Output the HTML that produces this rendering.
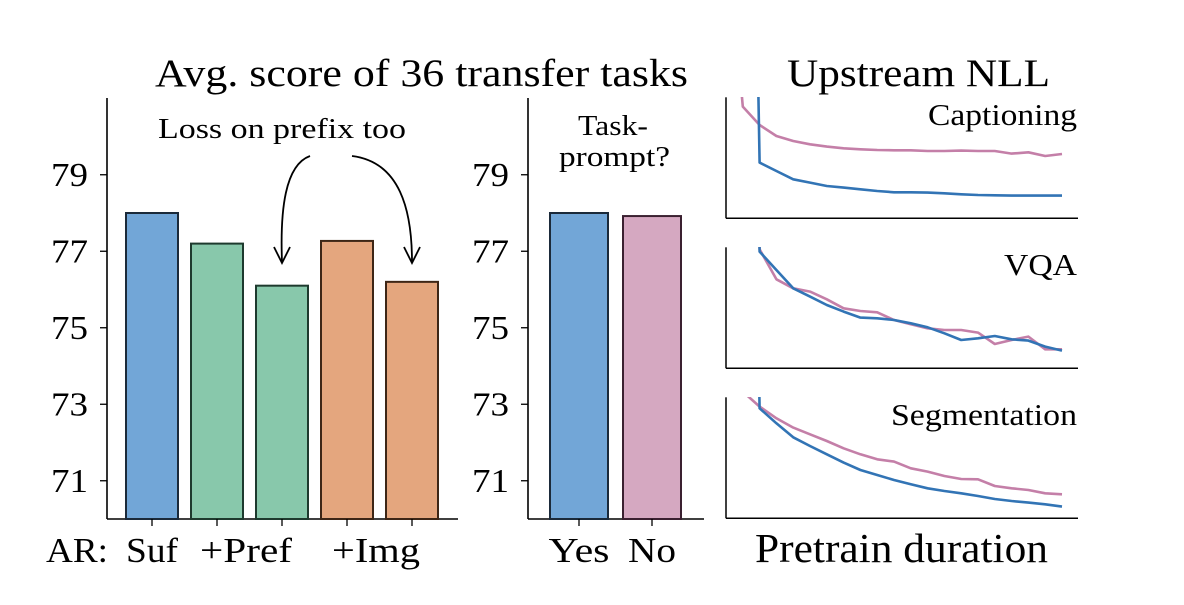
<!DOCTYPE html>
<html><head><meta charset="utf-8"><style>
html,body{margin:0;padding:0;background:#fff;}
svg{display:block;font-family:"Liberation Serif",serif;}
</style></head><body>
<svg id="fig" width="1184" height="605" viewBox="0 0 1184 605">
<defs>
<clipPath id="c0"><rect x="726" y="97" width="360" height="122"/></clipPath>
<clipPath id="c1"><rect x="726" y="247" width="360" height="122"/></clipPath>
<clipPath id="c2"><rect x="726" y="397" width="360" height="122"/></clipPath>
</defs>
<text x="155" y="86" font-size="39" textLength="533" lengthAdjust="spacingAndGlyphs">Avg. score of 36 transfer tasks</text>
<text x="787" y="86" font-size="39" textLength="263" lengthAdjust="spacingAndGlyphs">Upstream NLL</text>
<text x="158" y="138" font-size="29" textLength="248" lengthAdjust="spacingAndGlyphs">Loss on prefix too</text>
<path d="M310,156 C285,165 280,210 282,262" fill="none" stroke="#000" stroke-width="1.8"/>
<path d="M274,247 L282,263 L290,247" fill="none" stroke="#000" stroke-width="1.8"/>
<path d="M352,156 C400,162 412,210 412,262" fill="none" stroke="#000" stroke-width="1.8"/>
<path d="M404,247 L412,263 L420,247" fill="none" stroke="#000" stroke-width="1.8"/>
<text x="613" y="135" font-size="29" text-anchor="middle" textLength="70" lengthAdjust="spacingAndGlyphs">Task-</text>
<text x="559" y="166" font-size="29" textLength="111" lengthAdjust="spacingAndGlyphs">prompt?</text>
<text x="928" y="125" font-size="31" textLength="149" lengthAdjust="spacingAndGlyphs">Captioning</text>
<text x="1004" y="275" font-size="31" textLength="73" lengthAdjust="spacingAndGlyphs">VQA</text>
<text x="891" y="425" font-size="31" textLength="186" lengthAdjust="spacingAndGlyphs">Segmentation</text>
<text x="755" y="562" font-size="41" textLength="293" lengthAdjust="spacingAndGlyphs">Pretrain duration</text>
<text x="46" y="562" font-size="35" textLength="62" lengthAdjust="spacingAndGlyphs">AR:</text>
<g id="g1"></g><g id="g2"></g><g id="g3"></g>
</svg>
<script>
const ticks = [71, 73, 75, 77, 79];
const arCats = ["Suf", "+Pref", "+Pref-loss", "+Img", "+Img-loss"];
const arVals = [78.0, 77.2, 76.1, 77.27, 76.2];
const arColors = ["#72a6d7", "#88c8ab", "#88c8ab", "#e4a67e", "#e4a67e"];
const arEdges = ["#1b2a3a", "#1e3a2e", "#1e3a2e", "#3d2616", "#3d2616"];
const tpCats = ["Yes", "No"];
const tpVals = [78.0, 77.92];
const steps = [0,1,2,3,4,5,6,7,8,9,10,11,12,13,14,15,16,17,18,19,20];
const capBlue = [null, 30, 1.67, 1.42, 1.17, 1.07, 0.97, 0.92, 0.87, 0.82, 0.78, 0.78, 0.77, 0.75, 0.72, 0.70, 0.69, 0.68, 0.68, 0.68, 0.68];
const capPink = [9, 3.35, 2.80, 2.47, 2.32, 2.22, 2.15, 2.10, 2.07, 2.05, 2.04, 2.04, 2.02, 2.02, 2.03, 2.02, 2.02, 1.94, 1.98, 1.87, 1.93];
const vqaBlue = [null, 30, 3.50, 2.95, 2.40, 2.15, 1.90, 1.70, 1.52, 1.50, 1.45, 1.35, 1.23, 1.05, 0.85, 0.90, 0.97, 0.87, 0.83, 0.65, 0.53];
const vqaPink = [null, 30, 3.57, 2.67, 2.40, 2.30, 2.07, 1.80, 1.72, 1.68, 1.45, 1.32, 1.20, 1.15, 1.15, 1.07, 0.73, 0.85, 0.95, 0.57, 0.57];
const segBlue = [null, 30, 3.30, 2.85, 2.43, 2.17, 1.92, 1.67, 1.45, 1.30, 1.15, 1.02, 0.90, 0.82, 0.75, 0.67, 0.58, 0.52, 0.47, 0.42, 0.35];
const segPink = [null, 3.8, 3.35, 3.00, 2.72, 2.52, 2.32, 2.10, 1.92, 1.77, 1.70, 1.50, 1.40, 1.27, 1.18, 1.17, 0.97, 0.90, 0.85, 0.75, 0.72];

const NS = "http://www.w3.org/2000/svg";
function mk(tag, attrs, parent) {
  const e = document.createElementNS(NS, tag);
  for (const k in attrs) e.setAttribute(k, attrs[k]);
  parent.appendChild(e);
  return e;
}
const yBar = v => 519 - (v - 70) * 38.25;
const BOT = 519;

function barPanel(g, axX, axEnd, cats, vals, xs, w, colors, edges, labels, prefix) {
  mk("line", {x1: axX, y1: 98, x2: axX, y2: BOT, stroke: "#000", "stroke-width": 1.6}, g);
  mk("line", {x1: axX, y1: BOT, x2: axEnd, y2: BOT, stroke: "#000", "stroke-width": 1.6}, g);
  ticks.forEach(t => {
    mk("line", {x1: axX - 7, y1: yBar(t), x2: axX, y2: yBar(t), stroke: "#000", "stroke-width": 1.3}, g);
    const tx = mk("text", {x: axX - 19, y: yBar(t) + 11, "font-size": 34, "text-anchor": "end", textLength: 37, lengthAdjust: "spacingAndGlyphs"}, g);
    tx.textContent = t;
    
    
  });
  vals.forEach((v, i) => {
    const r = mk("rect", {x: xs[i] - w / 2, y: yBar(v), width: w, height: BOT - yBar(v), fill: colors[i], stroke: edges[i], "stroke-width": 2}, g);
    
    
    mk("line", {x1: xs[i], y1: BOT, x2: xs[i], y2: BOT + 7, stroke: "#000", "stroke-width": 1.3}, g);
  });
  labels.forEach(l => {
    const tx = mk("text", {x: l[1], y: 562, "font-size": 35, "text-anchor": "middle", textLength: l[2], lengthAdjust: "spacingAndGlyphs"}, g);
    tx.textContent = l[0];
    
    
  });
}
const arX = arVals.map((_, i) => 152 + i * 65);
barPanel(document.getElementById("g1"), 107, 458, arCats, arVals, arX, 52, arColors, arEdges,
  [["Suf", arX[0], 52], ["+Pref", 246, 92], ["+Img", 376, 88]], "ar");
const tpX = tpVals.map((_, i) => 579 + i * 73);
barPanel(document.getElementById("g2"), 528, 704, tpCats, tpVals, tpX, 58, ["#72a6d7", "#d5a8c1"], ["#1b2a3a", "#3a2030"],
  [["Yes", tpX[0], 61], ["No", tpX[1], 48]], "taskprompt");

const g3 = document.getElementById("g3");
const xLine = i => 726 + i * 16.8;
const panels = [[98.3, capBlue, capPink, "captioning"], [248.3, vqaBlue, vqaPink, "vqa"], [398.3, segBlue, segPink, "segmentation"]];
panels.forEach((p, k) => {
  const top = p[0], bot = top + 120;
  const yL = v => bot - v / 3.6 * 120;
  mk("line", {x1: 726, y1: top - 1, x2: 726, y2: bot, stroke: "#000", "stroke-width": 1.5}, g3);
  mk("line", {x1: 726, y1: bot, x2: 1078, y2: bot, stroke: "#000", "stroke-width": 1.5}, g3);
  [[p[2], "#c47fa8", "pink"], [p[1], "#3274b5", "blue"]].forEach(s => {
    let d = "";
    steps.forEach(i => {
      const v = s[0][i];
      if (v === null) return;
      d += (d ? "L" : "M") + xLine(i).toFixed(1) + "," + yL(v).toFixed(1);
    });
    const pa = mk("path", {d: d, fill: "none", stroke: s[1], "stroke-width": 2.6, "clip-path": "url(#c" + k + ")", "stroke-linejoin": "round"}, g3);
    
    
  });
});
</script>
</body></html>
